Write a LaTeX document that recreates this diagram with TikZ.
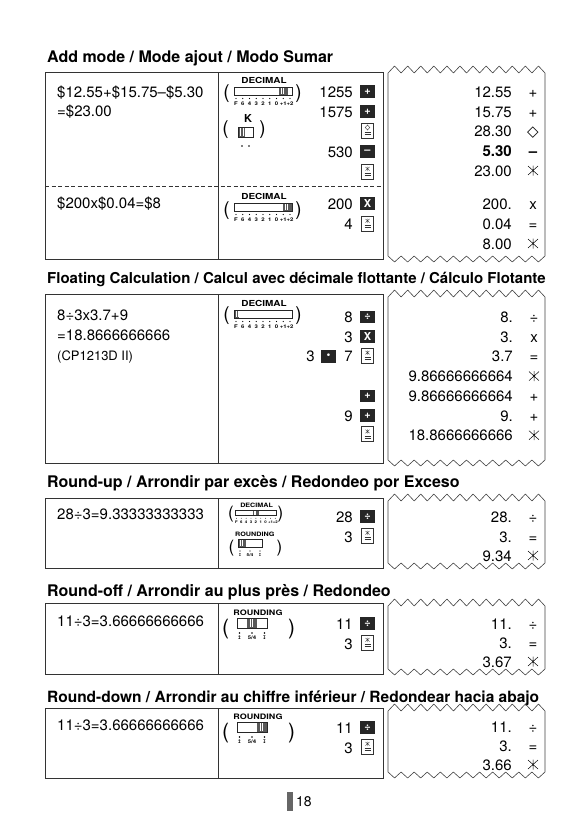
\documentclass[tikz,border=0pt]{standalone}
\usepackage{fontspec}
\setmainfont{TeX Gyre Heros}
\newfontfamily\symfont{DejaVu Sans}
\newfontfamily\labfont[FakeStretch=1.2]{TeX Gyre Heros}
\usepackage{tikz}
\usetikzlibrary{positioning}
\newcommand{\calcfont}{\fontsize{15}{18}\selectfont}

% slide switch of the decimal selector: name, x, y, knob from, knob to, scale
\newcommand{\decswitch}[6]{%
  \begin{scope}[shift={(#2,#3)}, scale=#6, transform shape]
    \node[swlabel] (#1-lab) at (30,-4) {DECIMAL};
    \fill[knob] (#4,0) rectangle (#5,8);
    \draw[knobline] (#4+2,1) -- ++(0,6) (#4+4,1) -- ++(0,6);
    \draw[swtrack] (0,0) rectangle (58,8);
    \foreach \t [count=\i from 0] in {F,6,4,3,2,1,0,+1,+2} {
      \fill (2+6.75*\i,11.5) circle (0.6pt);
      \node[swtick] (#1-t\i) at (2+6.75*\i,16.5) {\t};
    }
  \end{scope}}
% rounding selector: name, x, y, knob from, scale
\newcommand{\rndswitch}[5]{%
  \begin{scope}[shift={(#2,#3)}, scale=#5, transform shape]
    \node[rndlabel] (#1-lab) at (21,-3) {ROUNDING};
    \fill[knob] (#4,0) rectangle ++(10,10);
    \draw[knobline] (#4+3,1) -- ++(0,8) (#4+5.5,1) -- ++(0,8);
    \draw[swtrack] (0,0) rectangle (30,10);
    \foreach \x in {2.5,15,27.5} \fill (\x,15) circle (0.8pt);
    \node[swtick] (#1-up) at (2.5,20) {\symfont ↥};
    \node[swtick] (#1-half) at (15,20) {5/4};
    \node[swtick] (#1-dn) at (27.5,20) {\symfont ↧};
  \end{scope}}
% paper tape with torn edges: top, bottom
\newcommand{\tape}[2]{%
  \draw[tapeline] (388,#1) -- (388,#2)
    foreach \i in {1,...,12} { -- ++(6.54,6) -- ++(6.54,-6) }
    -- (545,#1)
    foreach \i in {1,...,12} { -- ++(-6.54,-7) -- ++(-6.54,7) } -- cycle;}

\begin{document}
\begin{tikzpicture}[
  x=1pt, y=-1pt,
  head/.style={anchor=base west, inner sep=0pt, font=\bfseries\fontsize{16}{18}\selectfont},
  calc/.style={anchor=base west, inner sep=0pt, font=\calcfont},
  entry/.style={anchor=base east, inner sep=0pt, font=\calcfont},
  rnum/.style={anchor=base east, inner sep=0pt, font=\calcfont},
  rsym/.style={anchor=base, inner sep=0pt, font=\calcfont},
  frame/.style={draw=black!80, line width=0.9pt},
  tapeline/.style={draw=black!75, line width=0.6pt, line join=bevel},
  swlabel/.style={anchor=base, inner sep=0pt, font=\labfont\bfseries\fontsize{8.3}{9}\selectfont},
  rndlabel/.style={anchor=base, inner sep=0pt, font=\labfont\bfseries\fontsize{7.5}{8}\selectfont},
  swtick/.style={inner sep=0pt, font=\labfont\bfseries\fontsize{5}{5}\selectfont},
  swtrack/.style={draw=black!85, line width=0.6pt},
  knob/.style={fill=black!65},
  knobline/.style={draw=white, line width=0.4pt},
  paren/.style={inner sep=0pt, font=\fontsize{19}{20}\selectfont},
  keyblk/.style={fill=black!85, text=white, inner sep=0pt, minimum width=15pt,
                 minimum height=12.5pt, font=\bfseries\fontsize{11}{11}\selectfont},
  keytot/.style={draw=black!80, line width=0.6pt, inner sep=0pt, minimum width=12pt,
                 minimum height=15pt, path picture={
      \draw[line width=0.4pt]
        ([yshift=5pt]path picture bounding box.center) -- ([yshift=0.5pt]path picture bounding box.center)
        ([xshift=-2pt,yshift=4.5pt]path picture bounding box.center) -- ([xshift=2pt,yshift=1pt]path picture bounding box.center)
        ([xshift=-2pt,yshift=1pt]path picture bounding box.center) -- ([xshift=2pt,yshift=4.5pt]path picture bounding box.center);
      \draw[line width=0.5pt]
        ([xshift=-3pt,yshift=-2pt]path picture bounding box.center) -- ([xshift=3pt,yshift=-2pt]path picture bounding box.center)
        ([xshift=-3pt,yshift=-4.2pt]path picture bounding box.center) -- ([xshift=3pt,yshift=-4.2pt]path picture bounding box.center);}},
  keysub/.style={keytot, path picture={
      \draw[line width=0.4pt]
        ([yshift=5.5pt]path picture bounding box.center) -- ([xshift=2.3pt,yshift=3pt]path picture bounding box.center)
        -- ([yshift=0.5pt]path picture bounding box.center) -- ([xshift=-2.3pt,yshift=3pt]path picture bounding box.center) -- cycle;
      \draw[line width=0.5pt]
        ([xshift=-3pt,yshift=-2pt]path picture bounding box.center) -- ([xshift=3pt,yshift=-2pt]path picture bounding box.center)
        ([xshift=-3pt,yshift=-4.2pt]path picture bounding box.center) -- ([xshift=3pt,yshift=-4.2pt]path picture bounding box.center);}},
  totsym/.style={inner sep=0pt, minimum size=11pt, path picture={
      \draw[line width=0.5pt]
        ([yshift=5pt]path picture bounding box.center) -- ([yshift=-5pt]path picture bounding box.center)
        ([xshift=-5pt,yshift=4.5pt]path picture bounding box.center) -- ([xshift=5pt,yshift=-4.5pt]path picture bounding box.center)
        ([xshift=-5pt,yshift=-4.5pt]path picture bounding box.center) -- ([xshift=5pt,yshift=4.5pt]path picture bounding box.center);}}
]
\useasboundingbox (0,0) rectangle (581,819);

\node[head] (h1) at (47,62) {Add mode / Mode ajout / Modo Sumar};
\draw[frame] (45,72) rectangle (383,259) (218,72) -- (218,259);
\draw[frame, dashed, line width=0.7pt, dash pattern=on 4pt off 2.5pt] (45,186) -- (383,186);
\node[calc] (a1) at (57,97) {\$12.55+\$15.75–\$5.30};
\node[calc] (a2) at (57,116) {=\$23.00};
\node[calc] (a3) at (57,208) {\$200x\$0.04=\$8};
\decswitch{deca}{234}{87}{44.75}{53.75}{1}
\node[paren] (deca-l) at (226.5,94) {(};
\node[paren] (deca-r) at (298.5,94) {)};
\node[anchor=base, inner sep=0pt, font=\bfseries\fontsize{11}{11}\selectfont] (ksw) at (248,122.5) {K};
\fill[knob] (238,127) rectangle (245,137);
\draw[knobline] (240.5,128) -- (240.5,136) (242.8,128) -- (242.8,136);
\draw[swtrack] (238,127) rectangle (253,137);
\fill (242,146) circle (0.9pt) (249,146) circle (0.9pt);
\node[paren] (ksw-l) at (225.5,130) {(};
\node[paren] (ksw-r) at (262.5,130) {)};
\node[entry] (e1) at (353,97) {1255};
\node[keyblk] (k1) at (367.5,91.5) {+};
\node[entry] (e2) at (353,117) {1575};
\node[keyblk] (k2) at (367.5,111.5) {+};
\node[keysub] (k3) at (367.5,130.5) {};
\node[entry] (e4) at (353,157) {530};
\node[keyblk] (k4) at (367.5,151.5) {–};
\node[keytot] (k5) at (367.5,171.5) {};
\decswitch{decb}{234}{203}{49}{58}{1}
\node[paren] (decb-l) at (226.5,211) {(};
\node[paren] (decb-r) at (298.5,211) {)};
\node[entry] (e6) at (353,209) {200};
\node[keyblk] (k6) at (367.5,203.5) {X};
\node[entry] (e7) at (353,229) {4};
\node[keytot] (k7) at (367.5,223.5) {};
\tape{73}{256}
\node[rnum] (t1) at (512,97) {12.55};   \node[rsym] (s1) at (533,97) {+};
\node[rnum] (t2) at (512,117) {15.75};  \node[rsym] (s2) at (533,117) {+};
\node[rnum] (t3) at (512,136) {28.30};  \node[rsym] (s3) at (533,136) {\symfont ◇};
\node[rnum, font=\calcfont\bfseries] (t4) at (512,156) {5.30};
\node[rsym, font=\calcfont\bfseries] (s4) at (533,156) {–};
\node[rnum] (t5) at (512,176) {23.00};  \node[totsym] (s5) at (533,170.5) {};
\node[rnum] (t6) at (512,209) {200.};   \node[rsym] (s6) at (533,209) {x};
\node[rnum] (t7) at (512,229) {0.04};   \node[rsym] (s7) at (533,229) {=};
\node[rnum] (t8) at (512,249) {8.00};   \node[totsym] (s8) at (533,243.5) {};

\node[head, font=\bfseries\fontsize{15}{18}\selectfont] (h2) at (47,283) {Floating Calculation / Calcul avec décimale flottante / Cálculo Flotante};
\draw[frame] (45,294) rectangle (383,463) (218,294) -- (218,463);
\node[calc] (b1) at (57,320) {8÷3x3.7+9};
\node[calc] (b2) at (57,340) {=18.8666666666};
\node[calc, font=\fontsize{13}{15}\selectfont] (b3) at (57,360) {(CP1213D II)};
\decswitch{decc}{234}{310}{0}{5}{1}
\node[paren] (decc-l) at (226.5,316) {(};
\node[paren] (decc-r) at (298.5,316) {)};
\node[entry] (f1) at (353,322.5) {8};
\node[keyblk] (m1) at (367.5,317) {÷};
\node[entry] (f2) at (353,342.2) {3};
\node[keyblk] (m2) at (367.5,336.7) {X};
\node[entry] (f3) at (315,361.9) {3};
\node[keyblk] (m3) at (328.5,356.4) {•};
\node[entry] (f4) at (353,361.9) {7};
\node[keytot] (m4) at (367.5,355.4) {};
\node[keyblk] (m5) at (367.5,395.8) {+};
\node[entry] (f6) at (353,421) {9};
\node[keyblk] (m6) at (367.5,415.5) {+};
\node[keytot] (m7) at (367.5,434.2) {};
\tape{297}{460}
\node[rnum] (u1) at (513,322.5) {8.};            \node[rsym] (v1) at (534,322.5) {÷};
\node[rnum] (u2) at (513,342.2) {3.};            \node[rsym] (v2) at (534,342.2) {x};
\node[rnum] (u3) at (513,361.9) {3.7};           \node[rsym] (v3) at (534,361.9) {=};
\node[rnum] (u4) at (513,381.6) {9.86666666664}; \node[totsym] (v4) at (534,376.1) {};
\node[rnum] (u5) at (513,401.3) {9.86666666664}; \node[rsym] (v5) at (534,401.3) {+};
\node[rnum] (u6) at (513,421) {9.};              \node[rsym] (v6) at (534,421) {+};
\node[rnum] (u7) at (513,440.7) {18.8666666666}; \node[totsym] (v7) at (534,435.2) {};

\node[head] (h3) at (47,487) {Round-up / Arrondir par excès / Redondeo por Exceso};
\draw[frame] (45,498) rectangle (383,568) (218,498) -- (218,568);
\node[calc] (c1) at (57,519) {28÷3=9.33333333333};
\decswitch{decd}{235}{510}{24.5}{33.5}{0.72}
\node[paren, font=\fontsize{17}{18}\selectfont] (decd-l) at (231,514) {(};
\node[paren, font=\fontsize{17}{18}\selectfont] (decd-r) at (280.5,514) {)};
\rndswitch{rnda}{238}{539}{0}{0.8}
\node[paren, font=\fontsize{17}{18}\selectfont] (rnda-l) at (231.5,548) {(};
\node[paren, font=\fontsize{17}{18}\selectfont] (rnda-r) at (279.5,548) {)};
\node[entry] (g1) at (353,522) {28};
\node[keyblk] (n1) at (367.5,516.5) {÷};
\node[entry] (g2) at (353,542) {3};
\node[keytot] (n2) at (367.5,535.5) {};
\tape{501}{563}
\node[rnum] (w1) at (512,522) {28.};  \node[rsym] (x1) at (533,522) {÷};
\node[rnum] (w2) at (512,542) {3.};   \node[rsym] (x2) at (533,542) {=};
\node[rnum] (w3) at (512,561) {9.34}; \node[totsym] (x3) at (533,555.5) {};

\node[head] (h4) at (47,596) {Round-off / Arrondir au plus près / Redondeo};
\draw[frame] (45,603) rectangle (383,674) (218,603) -- (218,674);
\node[calc] (d1) at (57,626) {11÷3=3.66666666666};
\rndswitch{rndb}{237}{618}{10}{1}
\node[paren, font=\fontsize{21}{22}\selectfont] (rndb-l) at (225.5,629.5) {(};
\node[paren, font=\fontsize{21}{22}\selectfont] (rndb-r) at (291.5,629.5) {)};
\node[entry] (p1) at (353,629) {11};
\node[keyblk] (q1) at (367.5,623.5) {÷};
\node[entry] (p2) at (353,649) {3};
\node[keytot] (q2) at (367.5,642.5) {};
\tape{606}{669}
\node[rnum] (y1) at (512,629) {11.};  \node[rsym] (z1) at (533,629) {÷};
\node[rnum] (y2) at (512,648) {3.};   \node[rsym] (z2) at (533,648) {=};
\node[rnum] (y3) at (512,667) {3.67}; \node[totsym] (z3) at (533,661.5) {};

\node[head, font=\bfseries\fontsize{15.5}{18}\selectfont] (h5) at (47,702) {Round-down / Arrondir au chiffre inférieur / Redondear hacia abajo};
\draw[frame] (45,708) rectangle (383,778) (218,708) -- (218,778);
\node[calc] (o1) at (57,730) {11÷3=3.66666666666};
\rndswitch{rndc}{237}{722}{20}{1}
\node[paren, font=\fontsize{21}{22}\selectfont] (rndc-l) at (225.5,733) {(};
\node[paren, font=\fontsize{21}{22}\selectfont] (rndc-r) at (291.5,733) {)};
\node[entry] (i1) at (353,733) {11};
\node[keyblk] (j1) at (367.5,727.5) {÷};
\node[entry] (i2) at (353,753) {3};
\node[keytot] (j2) at (367.5,746.5) {};
\tape{711}{772}
\node[rnum] (r1) at (512,732) {11.};  \node[rsym] (l1) at (533,732) {÷};
\node[rnum] (r2) at (512,751) {3.};   \node[rsym] (l2) at (533,751) {=};
\node[rnum] (r3) at (512,770) {3.66}; \node[totsym] (l3) at (533,764.5) {};

\fill[black!60] (287,792) rectangle (293,811);
\node[anchor=base west, inner sep=0pt, font=\fontsize{14}{16}\selectfont] (pg) at (296,806) {18};
\end{tikzpicture}
\end{document}
